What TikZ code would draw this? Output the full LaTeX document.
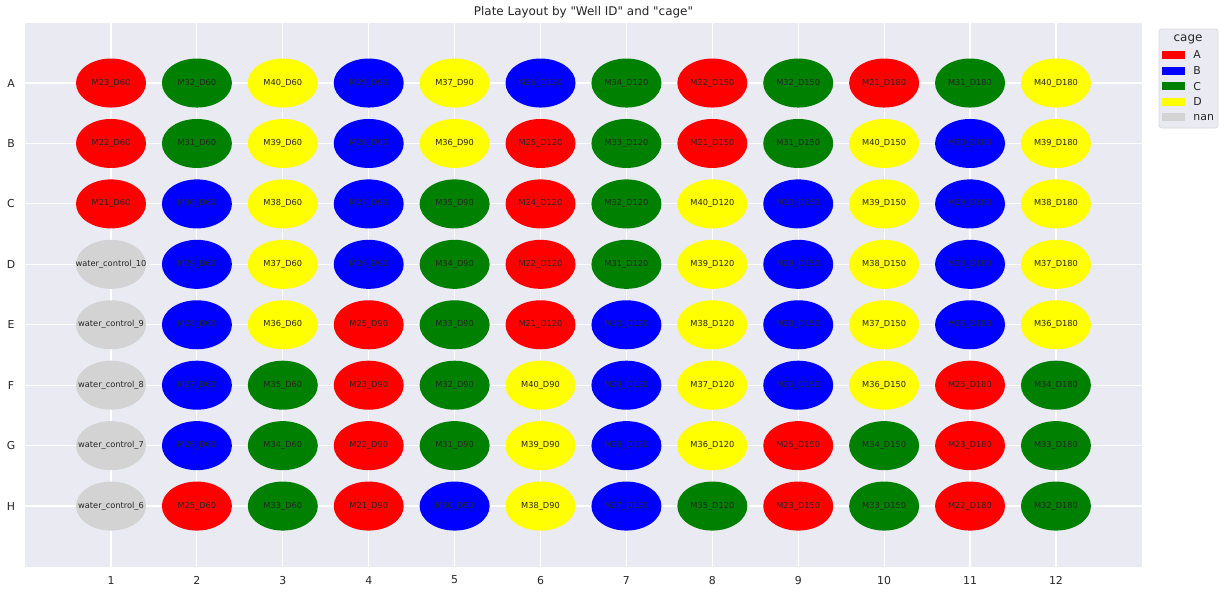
\documentclass[tikz,border=0pt]{standalone}
\usepackage{fontspec}
\setmainfont{DejaVu Sans}[Ligatures=TeXOff]
\usetikzlibrary{shapes.geometric,positioning}
\definecolor{axbg}{HTML}{EAEAF2}
\definecolor{inktext}{HTML}{262626}
\definecolor{cageA}{HTML}{FF0000}
\definecolor{cageB}{HTML}{0000FF}
\definecolor{cageC}{HTML}{008000}
\definecolor{cageD}{HTML}{FFFF00}
\definecolor{cagenan}{HTML}{D3D3D3}
\tikzset{
    well/.style={
        ellipse,
        minimum width=1.4cm,
        minimum height=0.98cm,
        inner sep=0pt
    },
    well text/.style={
        inner sep=0pt,
        text=inktext,
        font=\fontsize{4.7}{5}\selectfont
    },
    grid line/.style={white, line width=0.65pt},
    tick label/.style={text=inktext, font=\fontsize{6.2}{7}\selectfont},
    plot title/.style={text=inktext, font=\fontsize{6.8}{8}\selectfont},
    legend frame/.style={
        draw=black!15,
        fill=axbg,
        rounded corners=1.5pt,
        line width=0.4pt,
        minimum width=1.18cm,
        minimum height=1.98cm
    },
    legend title/.style={text=inktext, font=\fontsize{6.8}{8}\selectfont},
    legend patch/.style={
        minimum width=0.46cm,
        minimum height=0.16cm,
        inner sep=0pt,
        outer sep=0pt
    },
    legend label/.style={text=inktext, inner sep=0pt, font=\fontsize{6.2}{7}\selectfont}
}

\begin{document}
\begin{tikzpicture}[x=1.718cm,y=-1.2086cm]
    \useasboundingbox[fill=white] (-0.2922,-0.374) rectangle (13.968,9.439);
    \fill[axbg] (0,0) rectangle (13,9);

    % grid
    \foreach \c in {1,...,12} \draw[grid line] (\c,0) -- (\c,9);
    \foreach \r in {1,...,8} \draw[grid line] (0,\r) -- (13,\r);

    % wells, one loop per plate row
    \foreach \lbl/\cg [count=\col] in {M23\_D60/A, M32\_D60/C, M40\_D60/D, M29\_D90/B, M37\_D90/D, M26\_D120/B, M34\_D120/C, M22\_D150/A, M32\_D150/C, M21\_D180/A, M31\_D180/C, M40\_D180/D}
        \node[well, fill=cage\cg, label={[well text]center:\lbl}] (A\col) at (\col,1) {};
    \foreach \lbl/\cg [count=\col] in {M22\_D60/A, M31\_D60/C, M39\_D60/D, M28\_D90/B, M36\_D90/D, M25\_D120/A, M33\_D120/C, M21\_D150/A, M31\_D150/C, M40\_D150/D, M30\_D180/B, M39\_D180/D}
        \node[well, fill=cage\cg, label={[well text]center:\lbl}] (B\col) at (\col,2) {};
    \foreach \lbl/\cg [count=\col] in {M21\_D60/A, M30\_D60/B, M38\_D60/D, M27\_D90/B, M35\_D90/C, M24\_D120/A, M32\_D120/C, M40\_D120/D, M30\_D150/B, M39\_D150/D, M29\_D180/B, M38\_D180/D}
        \node[well, fill=cage\cg, label={[well text]center:\lbl}] (C\col) at (\col,3) {};
    \foreach \lbl/\cg [count=\col] in {water\_control\_10/nan, M29\_D60/B, M37\_D60/D, M26\_D90/B, M34\_D90/C, M22\_D120/A, M31\_D120/C, M39\_D120/D, M29\_D150/B, M38\_D150/D, M28\_D180/B, M37\_D180/D}
        \node[well, fill=cage\cg, label={[well text]center:\lbl}] (D\col) at (\col,4) {};
    \foreach \lbl/\cg [count=\col] in {water\_control\_9/nan, M28\_D60/B, M36\_D60/D, M25\_D90/A, M33\_D90/C, M21\_D120/A, M30\_D120/B, M38\_D120/D, M28\_D150/B, M37\_D150/D, M26\_D180/B, M36\_D180/D}
        \node[well, fill=cage\cg, label={[well text]center:\lbl}] (E\col) at (\col,5) {};
    \foreach \lbl/\cg [count=\col] in {water\_control\_8/nan, M27\_D60/B, M35\_D60/C, M23\_D90/A, M32\_D90/C, M40\_D90/D, M29\_D120/B, M37\_D120/D, M26\_D150/B, M36\_D150/D, M25\_D180/A, M34\_D180/C}
        \node[well, fill=cage\cg, label={[well text]center:\lbl}] (F\col) at (\col,6) {};
    \foreach \lbl/\cg [count=\col] in {water\_control\_7/nan, M26\_D60/B, M34\_D60/C, M22\_D90/A, M31\_D90/C, M39\_D90/D, M28\_D120/B, M36\_D120/D, M25\_D150/A, M34\_D150/C, M23\_D180/A, M33\_D180/C}
        \node[well, fill=cage\cg, label={[well text]center:\lbl}] (G\col) at (\col,7) {};
    \foreach \lbl/\cg [count=\col] in {water\_control\_6/nan, M25\_D60/A, M33\_D60/C, M21\_D90/A, M30\_D90/B, M38\_D90/D, M27\_D120/B, M35\_D120/C, M23\_D150/A, M33\_D150/C, M22\_D180/A, M32\_D180/C}
        \node[well, fill=cage\cg, label={[well text]center:\lbl}] (H\col) at (\col,8) {};

    % axes labels and title
    \foreach \c in {1,...,12} \node[tick label] (xtick\c) at (\c,9.224) {\c};
    \foreach \r/\name in {1/A,2/B,3/C,4/D,5/E,6/F,7/G,8/H} \node[tick label] (ytick\name) at (-0.164,\r) {\name};
    \node[plot title] (plottitle) at (6.5,-0.175) {Plate Layout by "Well ID" and "cage"};

    % legend
    \node[legend frame] (legframe) at (13.5435,0.925) {};
    \node[legend title] (legtitle) at (13.538,0.271) {cage};
    \node[legend patch, fill=cageA] (legA) at (13.369,0.536) {};
    \node[legend patch, fill=cageB, below=0.152cm of legA] (legB) {};
    \node[legend patch, fill=cageC, below=0.152cm of legB] (legC) {};
    \node[legend patch, fill=cageD, below=0.152cm of legC] (legD) {};
    \node[legend patch, fill=cagenan, below=0.152cm of legD] (legnan) {};
    \node[legend label, right=0.16cm of legA] {A};
    \node[legend label, right=0.16cm of legB] {B};
    \node[legend label, right=0.16cm of legC] {C};
    \node[legend label, right=0.16cm of legD] {D};
    \node[legend label, right=0.16cm of legnan] {nan};
\end{tikzpicture}
\end{document}
